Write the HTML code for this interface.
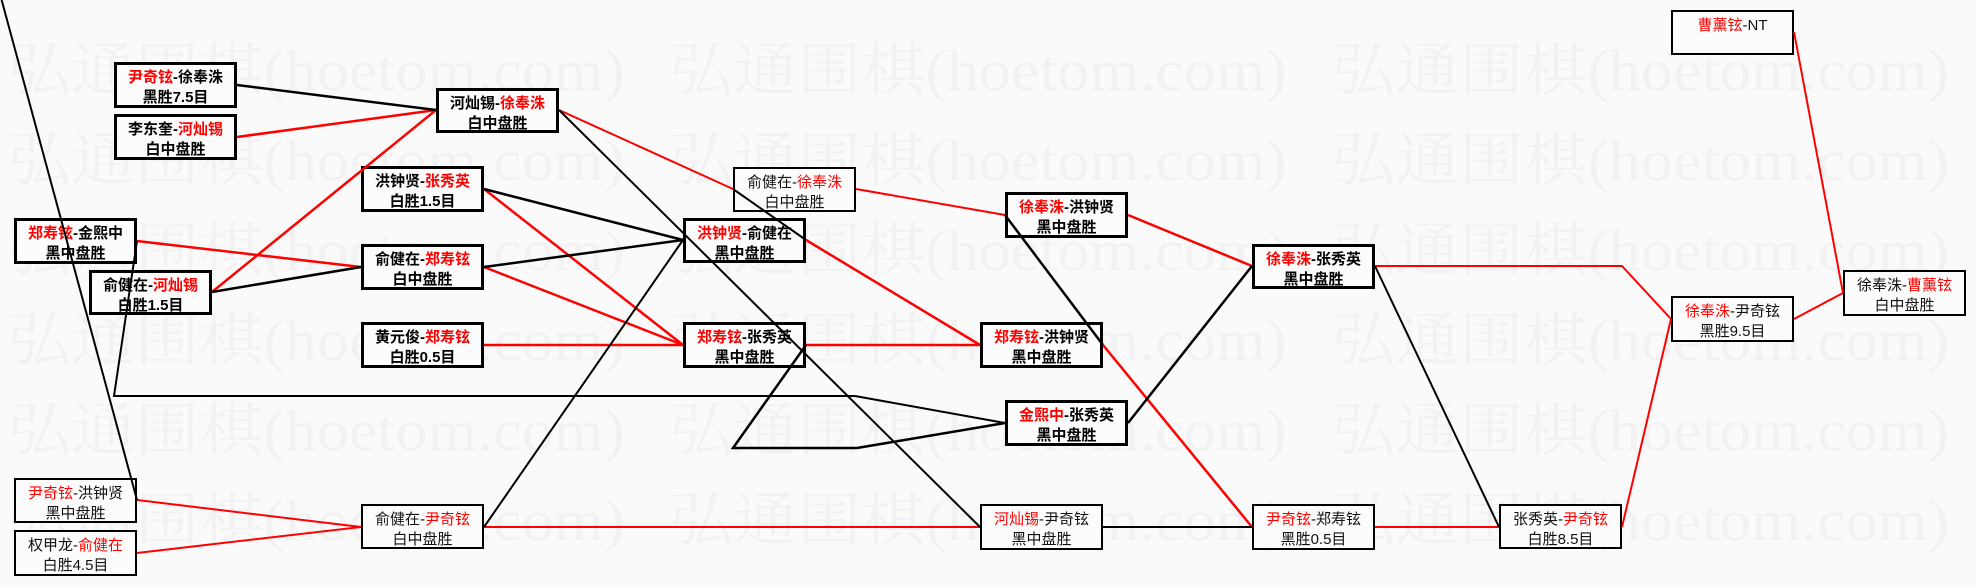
<!DOCTYPE html>
<html><head><meta charset="utf-8"><style>
html,body{margin:0;padding:0;background:#fafafa;}
svg{display:block;}
.b{font-family:"Liberation Sans","Noto Sans CJK SC",sans-serif;font-size:15px;font-weight:bold;fill:#000;}
.n{font-family:"Liberation Sans","Noto Sans CJK SC",sans-serif;font-size:15px;font-weight:normal;fill:#111;}
.r{fill:#f00;}
</style></head><body>
<svg width="1976" height="585" xmlns="http://www.w3.org/2000/svg">
<rect width="1976" height="585" fill="#fafafa"/>
<g font-family="'Liberation Serif','Noto Serif CJK SC',serif" font-size="58" fill="#f2f2f2">
<text x="7" y="90" textLength="618" lengthAdjust="spacingAndGlyphs">弘通围棋(hoetom.com)</text>
<text x="669" y="90" textLength="618" lengthAdjust="spacingAndGlyphs">弘通围棋(hoetom.com)</text>
<text x="1331" y="90" textLength="618" lengthAdjust="spacingAndGlyphs">弘通围棋(hoetom.com)</text>
<text x="7" y="180" textLength="618" lengthAdjust="spacingAndGlyphs">弘通围棋(hoetom.com)</text>
<text x="669" y="180" textLength="618" lengthAdjust="spacingAndGlyphs">弘通围棋(hoetom.com)</text>
<text x="1331" y="180" textLength="618" lengthAdjust="spacingAndGlyphs">弘通围棋(hoetom.com)</text>
<text x="7" y="270" textLength="618" lengthAdjust="spacingAndGlyphs">弘通围棋(hoetom.com)</text>
<text x="669" y="270" textLength="618" lengthAdjust="spacingAndGlyphs">弘通围棋(hoetom.com)</text>
<text x="1331" y="270" textLength="618" lengthAdjust="spacingAndGlyphs">弘通围棋(hoetom.com)</text>
<text x="7" y="360" textLength="618" lengthAdjust="spacingAndGlyphs">弘通围棋(hoetom.com)</text>
<text x="669" y="360" textLength="618" lengthAdjust="spacingAndGlyphs">弘通围棋(hoetom.com)</text>
<text x="1331" y="360" textLength="618" lengthAdjust="spacingAndGlyphs">弘通围棋(hoetom.com)</text>
<text x="7" y="450" textLength="618" lengthAdjust="spacingAndGlyphs">弘通围棋(hoetom.com)</text>
<text x="669" y="450" textLength="618" lengthAdjust="spacingAndGlyphs">弘通围棋(hoetom.com)</text>
<text x="1331" y="450" textLength="618" lengthAdjust="spacingAndGlyphs">弘通围棋(hoetom.com)</text>
<text x="7" y="540" textLength="618" lengthAdjust="spacingAndGlyphs">弘通围棋(hoetom.com)</text>
<text x="669" y="540" textLength="618" lengthAdjust="spacingAndGlyphs">弘通围棋(hoetom.com)</text>
<text x="1331" y="540" textLength="618" lengthAdjust="spacingAndGlyphs">弘通围棋(hoetom.com)</text>
</g>

<!-- thick boxes -->
<g fill="#fcfcfc" stroke="#000" stroke-width="3">
<rect x="115.5" y="63.5" width="120" height="43"/>
<rect x="115.5" y="115.5" width="120" height="43"/>
<rect x="437.5" y="89.5" width="120" height="42"/>
<rect x="362.5" y="167.5" width="120" height="43"/>
<rect x="15.5" y="219.5" width="120" height="43"/>
<rect x="90.5" y="271.5" width="120" height="42"/>
<rect x="362.5" y="245.5" width="120" height="43"/>
<rect x="362.5" y="323.5" width="120" height="43"/>
<rect x="684.5" y="219.5" width="120" height="42"/>
<rect x="684.5" y="323.5" width="120" height="43"/>
<rect x="1006.5" y="193.5" width="120" height="43"/>
<rect x="981.5" y="323.5" width="120" height="43"/>
<rect x="1006.5" y="401.5" width="120" height="43"/>
<rect x="1253.5" y="245.5" width="120" height="42"/>
</g>
<!-- thin boxes -->
<g fill="#fcfcfc" stroke="#000" stroke-width="2">
<rect x="15" y="479" width="121" height="43"/>
<rect x="15" y="531" width="121" height="44"/>
<rect x="362" y="505" width="121" height="43"/>
<rect x="734" y="168" width="121" height="43"/>
<rect x="981" y="505" width="121" height="44"/>
<rect x="1253" y="505" width="121" height="44"/>
<rect x="1500" y="505" width="121" height="43"/>
<rect x="1672" y="297" width="121" height="44"/>
<rect x="1672" y="11" width="121" height="43"/>
<rect x="1844" y="271" width="121" height="44"/>
</g>

<g text-anchor="middle">
<text class="b" x="175.5" y="82"><tspan class="r">尹奇铉</tspan>-徐奉洙</text>
<text class="b" x="175.5" y="102">黑胜7.5目</text>
<text class="b" x="175.5" y="134">李东奎-<tspan class="r">河灿锡</tspan></text>
<text class="b" x="175.5" y="154">白中盘胜</text>
<text class="b" x="497.5" y="108">河灿锡-<tspan class="r">徐奉洙</tspan></text>
<text class="b" x="497.5" y="128">白中盘胜</text>
<text class="b" x="422.5" y="186">洪钟贤-<tspan class="r">张秀英</tspan></text>
<text class="b" x="422.5" y="206">白胜1.5目</text>
<text class="b" x="75.5" y="238"><tspan class="r">郑寿铉</tspan>-金熙中</text>
<text class="b" x="75.5" y="258">黑中盘胜</text>
<text class="b" x="150.5" y="290">俞健在-<tspan class="r">河灿锡</tspan></text>
<text class="b" x="150.5" y="310">白胜1.5目</text>
<text class="b" x="422.5" y="264">俞健在-<tspan class="r">郑寿铉</tspan></text>
<text class="b" x="422.5" y="284">白中盘胜</text>
<text class="b" x="422.5" y="342">黄元俊-<tspan class="r">郑寿铉</tspan></text>
<text class="b" x="422.5" y="362">白胜0.5目</text>
<text class="b" x="744.5" y="238"><tspan class="r">洪钟贤</tspan>-俞健在</text>
<text class="b" x="744.5" y="258">黑中盘胜</text>
<text class="b" x="744.5" y="342"><tspan class="r">郑寿铉</tspan>-张秀英</text>
<text class="b" x="744.5" y="362">黑中盘胜</text>
<text class="b" x="1066.5" y="212"><tspan class="r">徐奉洙</tspan>-洪钟贤</text>
<text class="b" x="1066.5" y="232">黑中盘胜</text>
<text class="b" x="1041.5" y="342"><tspan class="r">郑寿铉</tspan>-洪钟贤</text>
<text class="b" x="1041.5" y="362">黑中盘胜</text>
<text class="b" x="1066.5" y="420"><tspan class="r">金熙中</tspan>-张秀英</text>
<text class="b" x="1066.5" y="440">黑中盘胜</text>
<text class="b" x="1313.5" y="264"><tspan class="r">徐奉洙</tspan>-张秀英</text>
<text class="b" x="1313.5" y="284">黑中盘胜</text>

<text class="n" x="75.5" y="498"><tspan class="r">尹奇铉</tspan>-洪钟贤</text>
<text class="n" x="75.5" y="518">黑中盘胜</text>
<text class="n" x="75.5" y="550">权甲龙-<tspan class="r">俞健在</tspan></text>
<text class="n" x="75.5" y="570">白胜4.5目</text>
<text class="n" x="422.5" y="524">俞健在-<tspan class="r">尹奇铉</tspan></text>
<text class="n" x="422.5" y="544">白中盘胜</text>
<text class="n" x="794.5" y="187">俞健在-<tspan class="r">徐奉洙</tspan></text>
<text class="n" x="794.5" y="207">白中盘胜</text>
<text class="n" x="1041.5" y="524"><tspan class="r">河灿锡</tspan>-尹奇铉</text>
<text class="n" x="1041.5" y="544">黑中盘胜</text>
<text class="n" x="1313.5" y="524"><tspan class="r">尹奇铉</tspan>-郑寿铉</text>
<text class="n" x="1313.5" y="544">黑胜0.5目</text>
<text class="n" x="1560.5" y="524">张秀英-<tspan class="r">尹奇铉</tspan></text>
<text class="n" x="1560.5" y="544">白胜8.5目</text>
<text class="n" x="1732.5" y="316"><tspan class="r">徐奉洙</tspan>-尹奇铉</text>
<text class="n" x="1732.5" y="336">黑胜9.5目</text>
<text class="n" x="1732.5" y="30"><tspan class="r">曹薰铉</tspan>-NT</text>
<text class="n" x="1904.5" y="290">徐奉洙-<tspan class="r">曹薰铉</tspan></text>
<text class="n" x="1904.5" y="310">白中盘胜</text>
</g>

<!-- connectors -->
<g fill="none" stroke="#f00" stroke-width="2.5">
<polyline points="237,137 436,110"/>
<polyline points="212,292 436,110"/>
<polyline points="137,241 361,267"/>
<polyline points="484,189 683,345"/>
<polyline points="484,267 683,345"/>
<polyline points="484,345 683,345"/>
<polyline points="806,240 980,345"/>
<polyline points="806,345 980,345"/>
<polyline points="1128,215 1252,266"/>
<polyline points="1103,345 1252,527"/>
</g>
<g fill="none" stroke="#f00" stroke-width="2">
<polyline points="559,110 733,189"/>
<polyline points="856,189 1005,215"/>
<polyline points="137,500 361,527"/>
<polyline points="137,553 361,527"/>
<polyline points="484,527 980,527"/>
<polyline points="1375,527 1499,527"/>
<polyline points="1375,266 1622,266 1671,319"/>
<polyline points="1622,527 1671,319"/>
<polyline points="1794,319 1843,293"/>
<polyline points="1794,32 1843,293"/>
</g>
<g fill="none" stroke="#000" stroke-width="2.5">
<polyline points="237,85 436,110"/>
<polyline points="212,292 361,267"/>
<polyline points="484,189 683,240"/>
<polyline points="484,267 683,240"/>
<polyline points="806,345 733,448 857,448 1005,423"/>
<polyline points="1128,423 1252,266"/>
<polyline points="1005,215 1103,345"/>
</g>
<g fill="none" stroke="#000" stroke-width="2">
<polyline points="137,241 114,396 855,396 1005,423"/>
<polyline points="137,500 0,-6"/>
<polyline points="484,527 683,240"/>
<polyline points="559,110 980,527"/>
<polyline points="806,240 733,189"/>
<polyline points="1103,527 1252,527"/>
<polyline points="1375,266 1499,527"/>
</g>
</svg>
</body></html>
